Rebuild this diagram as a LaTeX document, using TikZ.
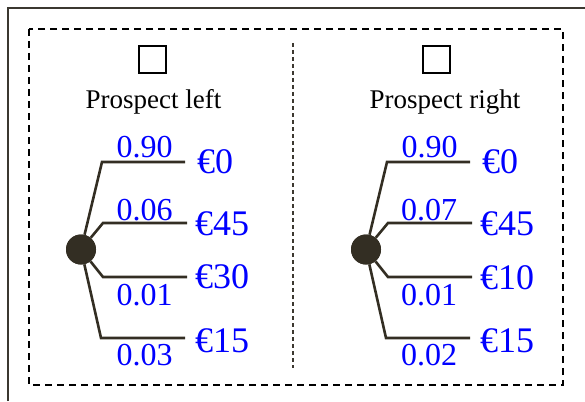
\documentclass[tikz,border=0pt]{standalone}
\usepackage{fontspec}
\setmainfont{Liberation Serif}
\definecolor{treecol}{RGB}{51,46,35}
\definecolor{framecol}{RGB}{59,56,48}
\definecolor{sepcol}{RGB}{60,56,48}
\definecolor{numblue}{RGB}{0,0,255}
\tikzset{
  branch/.style={draw=treecol, line width=2.6pt},
  chance/.style={circle, fill=treecol, draw=none, minimum size=30pt, inner sep=0pt},
  checkbox/.style={draw=black, line width=2.3pt, minimum size=27pt, inner sep=0pt},
  prospect/.style={font=\fontsize{27}{30}\selectfont, anchor=base, inner sep=0pt},
  prob/.style={font=\fontsize{32}{36}\selectfont, text=numblue, anchor=base, inner sep=0pt},
  payoff/.style={font=\fontsize{36}{40}\selectfont, text=numblue, anchor=base west, inner sep=0pt},
}
\begin{document}
\begin{tikzpicture}[x=1pt,y=-1pt]
\useasboundingbox (0,0) rectangle (585,401);
% outer frame (partly outside the picture)
\draw[framecol, line width=2.7pt] (8,401) -- (8,8) -- (585,8);
% dashed box
\draw[black, line width=2.4pt, dash pattern=on 7pt off 5pt] (29,29) rectangle (563,385);
% separator
\draw[sepcol, line width=1.3pt, dash pattern=on 4pt off 3pt] (293,43) -- (293,368);

% ---------- left prospect ----------
\node[checkbox] (boxL) at (152.5,59.5) {};
\node[prospect] (titleL) at (153.5,108) {Prospect left};
\coordinate (L1c) at (102,162); \coordinate (L1e) at (185,162);
\coordinate (L2c) at (103,223); \coordinate (L2e) at (187,223);
\coordinate (L3c) at (103,277); \coordinate (L3e) at (187,277);
\coordinate (L4c) at (101,338); \coordinate (L4e) at (185,338);
\node[chance] (cL) at (81,249.5) {};
\draw[branch] (cL) -- (L1c) -- (L1e);
\draw[branch] (cL) -- (L2c) -- (L2e);
\draw[branch] (cL) -- (L3c) -- (L3e);
\draw[branch] (cL) -- (L4c) -- (L4e);
\node[chance] at (cL) {};
\node[prob] (pL1) at (144.5,157) {0.90};
\node[prob] (pL2) at (144.5,220) {0.06};
\node[prob] (pL3) at (144.5,305) {0.01};
\node[prob] (pL4) at (144.5,365) {0.03};
\node[payoff] (vL1) at (197,173) {€0};
\node[payoff] (vL2) at (195,235) {€45};
\node[payoff] (vL3) at (195,288) {€30};
\node[payoff] (vL4) at (195,352) {€15};

% ---------- right prospect ----------
\node[checkbox] (boxR) at (436.5,59.5) {};
\node[prospect] (titleR) at (445,108) {Prospect right};
\coordinate (R1c) at (387,162); \coordinate (R1e) at (470,162);
\coordinate (R2c) at (388,223); \coordinate (R2e) at (472,223);
\coordinate (R3c) at (388,277); \coordinate (R3e) at (472,277);
\coordinate (R4c) at (386,338); \coordinate (R4e) at (470,338);
\node[chance] (cR) at (366,249.5) {};
\draw[branch] (cR) -- (R1c) -- (R1e);
\draw[branch] (cR) -- (R2c) -- (R2e);
\draw[branch] (cR) -- (R3c) -- (R3e);
\draw[branch] (cR) -- (R4c) -- (R4e);
\node[chance] at (cR) {};
\node[prob] (pR1) at (429.5,157) {0.90};
\node[prob] (pR2) at (429,220) {0.07};
\node[prob] (pR3) at (429,305) {0.01};
\node[prob] (pR4) at (429,365) {0.02};
\node[payoff] (vR1) at (482,173) {€0};
\node[payoff] (vR2) at (480,235) {€45};
\node[payoff] (vR3) at (480,289) {€10};
\node[payoff] (vR4) at (480,352) {€15};
\end{tikzpicture}
\end{document}
